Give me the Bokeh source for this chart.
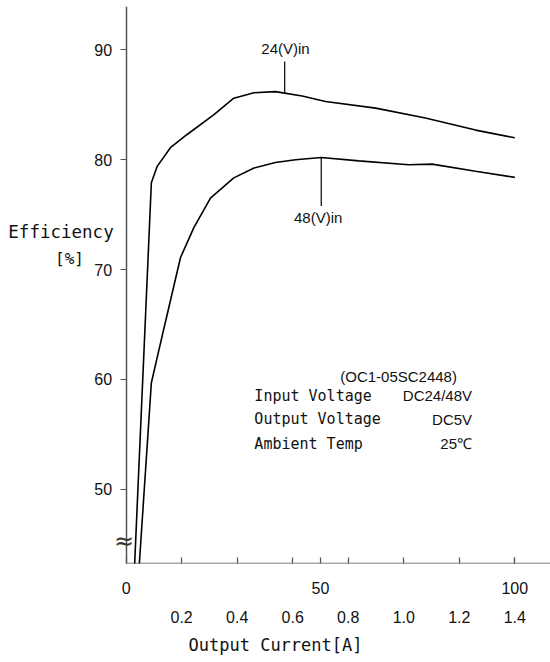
from bokeh.plotting import figure
from bokeh.models import Range1d, LinearAxis, FixedTicker, Label, NumeralTickFormatter
from bokeh.core.properties import value
from bokeh.embed import file_html
from bokeh.resources import INLINE
import numpy as np

# ---- data ----
load_24v = [2.2, 6.5, 8.0, 11.4, 15.7, 22.6, 27.7, 32.9, 38.4, 45.3, 51.3, 64.2, 77.0, 89.9, 100.0]
eff_24v = [43.2, 77.9, 79.4, 81.1, 82.3, 84.1, 85.6, 86.1, 86.2, 85.8, 85.3, 84.7, 83.8, 82.7, 82.0]

load_48v = [3.4, 6.5, 9.7, 14.0, 17.4, 21.7, 27.7, 32.9, 38.4, 43.6, 50.2, 59.9, 72.7, 78.7, 89.9, 100.0]
eff_48v = [43.2, 59.7, 64.6, 71.1, 73.8, 76.5, 78.35, 79.25, 79.75, 80.0, 80.2, 79.9, 79.55, 79.6, 78.95, 78.4]

y_ticks = [50, 60, 70, 80, 90]
load_ticks = [0, 50, 100]
current_ticks = [0.2, 0.4, 0.6, 0.8, 1.0, 1.2, 1.4]
max_current = 1.4

series_names = ["24(V)in", "48(V)in"]
leader_load = [40.8, 50.2]
leader_end = [88.95, 75.8]

info_title = "(OC1-05SC2448)"
info_keys = ["Input Voltage", "Output Voltage", "Ambient Temp"]
info_vals = ["DC24/48V", "DC5V", "25\u2103"]

MONO = "DejaVu Sans Mono"
SANS = "Liberation Sans"
INK = "#111111"
AX = "#555555"

x0, x1 = -32.31, 109.18
y0, y1 = 43.25, 93.95
p = figure(width=550, height=662, output_backend="svg", toolbar_location=None,
           x_range=Range1d(x0, x1), y_range=Range1d(y0, y1),
           x_axis_location=None, y_axis_location=None,
           min_border_left=0, min_border_right=0, min_border_top=6, min_border_bottom=99)
p.grid.visible = False
p.outline_line_color = None
p.background_fill_color = "white"
p.border_fill_color = "white"

# y axis, fixed at zero load
yax = LinearAxis(ticker=FixedTicker(ticks=y_ticks, minor_ticks=[]), fixed_location=0,
                 axis_line_color=AX, axis_line_width=1.5,
                 major_tick_in=0, major_tick_out=6, major_tick_line_color=AX, major_tick_line_width=1.2,
                 minor_tick_line_color=None,
                 major_label_standoff=8, major_label_text_font=SANS,
                 major_label_text_font_size="16px", major_label_text_color=INK)
p.add_layout(yax, "left")

# x axis (load %)
minor_pos = [c / max_current * 100 for c in current_ticks]
xax = LinearAxis(ticker=FixedTicker(ticks=load_ticks, minor_ticks=minor_pos),
                 axis_line_color=None,
                 major_tick_in=6, major_tick_out=0, major_tick_line_color=AX, major_tick_line_width=1.2,
                 minor_tick_in=6, minor_tick_out=0, minor_tick_line_color=AX, minor_tick_line_width=1.2,
                 major_label_standoff=18, major_label_text_font=SANS,
                 major_label_text_font_size="16px", major_label_text_color=INK)
p.add_layout(xax, "below")
# baseline of the x axis, from zero load to the end of the range
p.segment(x0=[0], y0=[y0], x1=[x1], y1=[y0], line_color=AX, line_width=1.5)

# second x axis (current A)
p.extra_x_ranges = {"amps": Range1d(x0 * max_current / 100, x1 * max_current / 100)}
aax = LinearAxis(x_range_name="amps", ticker=FixedTicker(ticks=current_ticks, minor_ticks=[]),
                 formatter=NumeralTickFormatter(format="0.0"),
                 axis_line_color=None, major_tick_line_color=None, minor_tick_line_color=None,
                 major_tick_in=0, major_tick_out=0,
                 major_label_standoff=14, major_label_text_font=SANS,
                 major_label_text_font_size="16px", major_label_text_color=INK,
                 axis_label="Output Current[A]", axis_label_standoff=9,
                 axis_label_text_font=MONO, axis_label_text_font_size="17px",
                 axis_label_text_font_style="normal", axis_label_text_color=INK)
p.add_layout(aax, "below")

# curves
p.line(load_24v, eff_24v, line_color="black", line_width=1.6)
p.line(load_48v, eff_48v, line_color="black", line_width=1.6)

# leaders
start24 = float(np.interp(leader_load[0], load_24v, eff_24v))
start48 = float(np.interp(leader_load[1], load_48v, eff_48v))
p.segment(x0=leader_load, y0=[start24, start48], x1=leader_load, y1=leader_end,
          line_color="black", line_width=1.2)

p.text(x=[41.0, 49.4], y=[90.15, 74.7], text=series_names,
       text_font=value(SANS), text_font_size="15px", text_color=INK,
       text_align="center", text_baseline="middle")

# info box
p.add_layout(Label(x=70.1, y=60.3, text=info_title, text_font=SANS, text_font_size="15px",
                   text_color=INK, text_align="center", text_baseline="middle"))
for ky, yy in zip(info_keys, [58.5, 56.4, 54.15]):
    p.add_layout(Label(x=33.0, y=yy, text=ky, text_font=MONO, text_font_size="15px",
                       text_color=INK, text_align="left", text_baseline="middle"))
for vv, yy in zip(info_vals, [58.5, 56.4, 54.15]):
    p.add_layout(Label(x=89.0, y=yy, text=vv, text_font=SANS, text_font_size="15px",
                       text_color=INK, text_align="right", text_baseline="middle"))

# y-axis title
p.add_layout(Label(x=-16.75, y=73.4, text="Efficiency", text_font=MONO, text_font_size="17.5px",
                   text_color=INK, text_align="center", text_baseline="middle"))
p.add_layout(Label(x=-14.56, y=71.05, text="[%]", text_font=MONO, text_font_size="16px",
                   text_color=INK, text_align="center", text_baseline="middle"))

# axis break mark
p.add_layout(Label(x=-0.5, y=45.3, text="\u2248", text_font="DejaVu Sans", text_font_size="24px",
                   text_color="#333333", text_align="center", text_baseline="middle"))

open("out.html", "w").write(file_html(p, INLINE))
